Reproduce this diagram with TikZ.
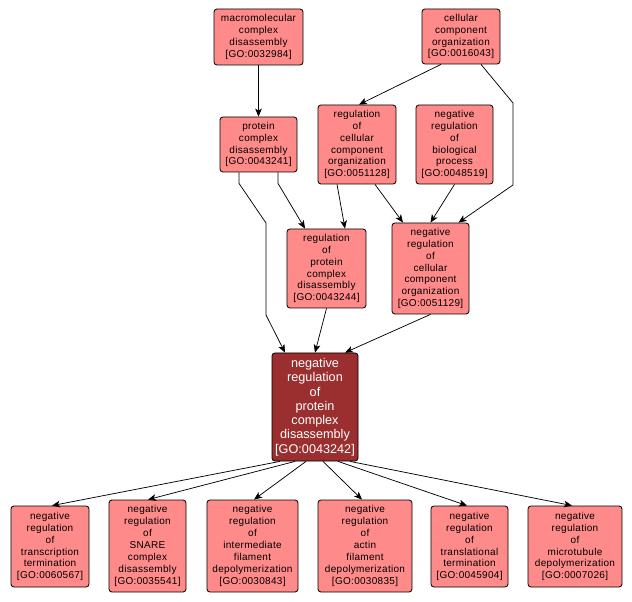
\documentclass[tikz,border=0pt]{standalone}
\usepackage{fontspec}
\setmainfont{Liberation Sans}
\newfontfamily\termfont{Liberation Sans}[LetterSpace=3]
\usetikzlibrary{arrows.meta,calc}
\definecolor{termfill}{HTML}{FF8A8A}
\definecolor{focusfill}{HTML}{9B2E2E}
\tikzset{
  term/.style 2 args={draw=black, fill=termfill, rounded corners=2.2pt, line width=0.6pt,
    align=center, inner sep=0pt, minimum width=#1*0.75pt, minimum height=#2*0.75pt,
    font=\termfont\fontsize{7.5}{8.9}\selectfont},
  focus/.style 2 args={term={#1}{#2}, fill=focusfill, text=white,
    font=\rmfamily\fontsize{9.5}{10.7}\selectfont},
  isa/.style={draw=black, line width=0.55pt, -{Stealth[length=6pt,width=5pt,inset=1.5pt]}}
}

\begin{document}
\begin{tikzpicture}[x=0.75pt, y=-0.75pt]
            \useasboundingbox (0,0) rectangle (632,602);

            % top rows
            \node[term={89}{56}] (mcd) at (258.5,37) {macromolecular\\complex\\disassembly\\{[GO:0032984]}};
            \node[term={78}{55}] (cco) at (461,36.5) {cellular\\component\\organization\\{[GO:0016043]}};
            \node[term={77}{55}] (pcd) at (258.5,144.5) {protein\\complex\\disassembly\\{[GO:0043241]}};
            \node[term={78}{79}] (rcco) at (357,144.5) {regulation\\of\\cellular\\component\\organization\\{[GO:0051128]}};
            \node[term={77}{79}] (nrbp) at (454.5,144.5) {negative\\regulation\\of\\biological\\process\\{[GO:0048519]}};
            \node[term={79}{79}] (rpcd) at (326.5,268.5) {regulation\\of\\protein\\complex\\disassembly\\{[GO:0043244]}};
            \node[term={77}{91}] (nrcco) at (430.5,268.5) {negative\\regulation\\of\\cellular\\component\\organization\\{[GO:0051129]}};

            % the term itself
            \node[focus={86}{108}] (nrpcd) at (315,407) {negative\\regulation\\of\\protein\\complex\\disassembly\\{[GO:0043242]}};

            % children
            \node[term={78}{81}] (nrtt) at (50,546.5) {negative\\regulation\\of\\transcription\\termination\\{[GO:0060567]}};
            \node[term={77}{92}] (nrscd) at (147.5,546) {negative\\regulation\\of\\SNARE\\complex\\disassembly\\{[GO:0035541]}};
            \node[term={91}{92}] (nrifd) at (252.5,546) {negative\\regulation\\of\\intermediate\\filament\\depolymerization\\{[GO:0030843]}};
            \node[term={94}{92}] (nrafd) at (365,546) {negative\\regulation\\of\\actin\\filament\\depolymerization\\{[GO:0030835]}};
            \node[term={77}{81}] (nrtlt) at (469.5,546.5) {negative\\regulation\\of\\translational\\termination\\{[GO:0045904]}};
            \node[term={94}{81}] (nrmd) at (575,546.5) {negative\\regulation\\of\\microtubule\\depolymerization\\{[GO:0007026]}};

            % edges
            \draw[isa] (mcd) -- (pcd);
            \draw[isa] ($(cco.south)+(-20,0)$) -- ($(rcco.north)+(2,0)$);
            \draw[isa] ($(cco.south)+(20,0)$) -- (513,103) -- (513,185) -- ($(nrcco.north)+(28,0)$);
            \draw[isa] ($(pcd.south)+(-19.5,0)$) -- ++(0,11) -- (266,223) -- (266,315) -- ($(nrpcd.north)+(-30,0)$);
            \draw[isa] ($(pcd.south)+(19.5,0)$) -- ++(0,11) -- ($(rpcd.north)+(-21.5,0)$);
            \draw[isa] ($(rcco.south)+(-20,0)$) -- ($(rpcd.north)+(18.5,0)$);
            \draw[isa] ($(rcco.south)+(18,0)$) -- ($(nrcco.north)+(-27.5,0)$);
            \draw[isa] (nrbp.south) -- (nrcco.north);
            \draw[isa] (rpcd.south) -- (nrpcd.north);
            \draw[isa] (nrcco.south) -- ($(nrpcd.north)+(30,0)$);

            \draw[isa] ($(nrpcd.south)+(-35,0)$) -- ($(nrtt.north)+(2,0)$);
            \draw[isa] ($(nrpcd.south)+(-20,0)$) -- ($(nrscd.north)+(0.5,0)$);
            \draw[isa] ($(nrpcd.south)+(-9,0)$) -- ($(nrifd.north)+(1.5,0)$);
            \draw[isa] ($(nrpcd.south)+(8,0)$) -- ($(nrafd.north)+(-3,0)$);
            \draw[isa] ($(nrpcd.south)+(23,0)$) -- ($(nrtlt.north)+(-2.5,0)$);
            \draw[isa] ($(nrpcd.south)+(35,0)$) -- ($(nrmd.north)+(-3,0)$);
        \end{tikzpicture}
\end{document}
